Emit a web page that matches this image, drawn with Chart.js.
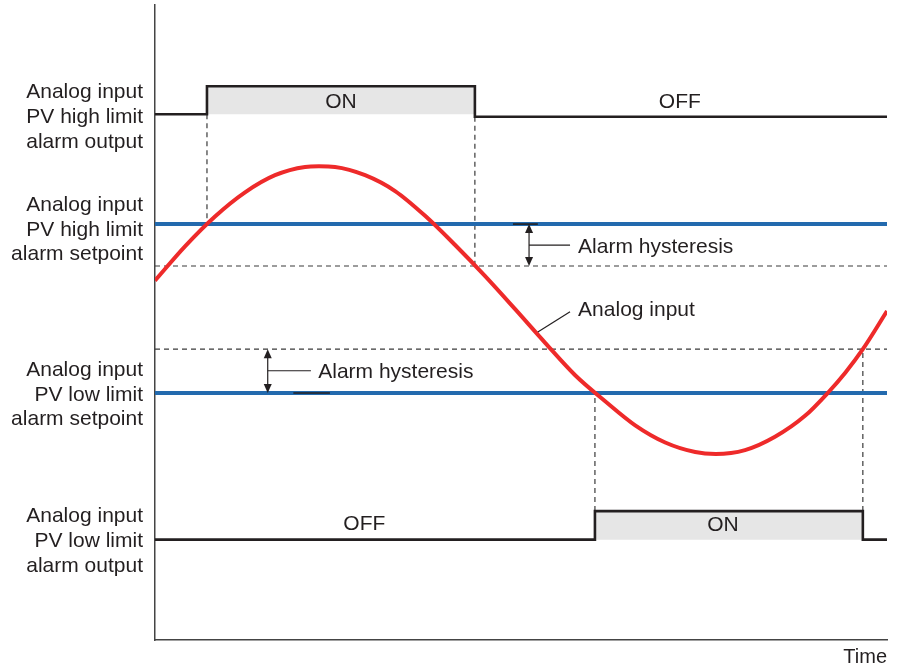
<!DOCTYPE html>
<html><head><meta charset="utf-8">
<script src="https://cdn.jsdelivr.net/npm/chart.js@4.4.1/dist/chart.umd.min.js"></script>
<style>html,body{margin:0;padding:0;background:#fff}#wrap{width:902px;height:667px}</style>
</head><body><div id="wrap"><canvas id="c" width="902" height="667"></canvas></div>
<script>
// ---- data (time 0..100, level 0..100) ----
const highOutTimes  = [0, 7.1, 7.1, 43.7, 43.7, 100];
const highOutLevels = [82.8, 82.8, 87.2, 87.2, 82.4, 82.4];
const lowOutTimes   = [0, 60.1, 60.1, 96.7, 96.7, 100];
const lowOutLevels  = [15.8, 15.8, 20.3, 20.3, 15.8, 15.8];
const highOnTimes   = [7.1, 43.7];
const lowOnTimes    = [60.1, 96.7];
const highSetpoint = 65.5, highReset = 58.9, lowReset = 45.8, lowSetpoint = 38.9;
const inputTimes  = [0, 4.1, 8.2, 12.3, 16.4, 20.5, 22.4, 24.6, 28.7, 32.8, 36.9, 41.0, 45.1, 49.2, 53.3, 57.4, 61.5, 65.6, 69.7, 73.8, 76.6, 80.6, 84.7, 88.8, 91.9, 94.3, 96.7, 100];
const inputValues = [56.6, 62.0, 66.7, 70.5, 73.2, 74.5, 74.6, 74.5, 73.2, 70.7, 66.8, 62.2, 57.3, 52.1, 46.8, 41.7, 37.6, 33.8, 31.1, 29.6, 29.3, 29.9, 32.0, 35.3, 38.9, 42.1, 45.8, 51.8];
const yTickValues = [82.3, 64.6, 38.6, 15.6];
const yTickLabels = [
  ["Analog input", "PV high limit", "alarm output"],
  ["Analog input", "PV high limit", "alarm setpoint"],
  ["Analog input", "PV low limit", "alarm setpoint"],
  ["Analog input", "PV low limit", "alarm output"]
];
const stateTexts  = ["ON", "OFF", "OFF", "ON"];
const stateTimes  = [25.4, 71.7, 28.6, 77.6];
const stateLevels = [84.7, 84.7, 18.3, 18.0];
const noteTexts  = ["Alarm hysteresis", "Analog input", "Alarm hysteresis"];
const noteTimes  = [57.8, 57.8, 22.3];
const noteLevels = [61.9, 52.0, 42.2];

const pts = (xs, ys) => xs.map((x, i) => ({x: x, y: ys[i]}));
const hline = (v) => [{x: 0, y: v}, {x: 100, y: v}];
const vline = (t, a, b) => [{x: t, y: a}, {x: t, y: b}];

const INK = '#231f20';
const FONT = '"Liberation Sans", Arial, Helvetica, sans-serif';
const dashed = {borderColor: '#3a3a3a', borderWidth: 1.2, borderDash: [5, 4], pointRadius: 0, tension: 0, fill: false, order: 3};

const datasets = [
  {data: pts(inputTimes, inputValues), borderColor: '#ee2a2a', borderWidth: 4, pointRadius: 0, cubicInterpolationMode: 'monotone', fill: false, order: 0},
  {data: hline(highSetpoint), borderColor: '#236aae', borderWidth: 4, pointRadius: 0, fill: false, order: 1},
  {data: hline(lowSetpoint), borderColor: '#236aae', borderWidth: 4, pointRadius: 0, fill: false, order: 1},
  Object.assign({data: hline(highReset)}, dashed),
  Object.assign({data: hline(lowReset)}, dashed),
  Object.assign({data: vline(highOnTimes[0], highOutLevels[0], highSetpoint)}, dashed),
  Object.assign({data: vline(highOnTimes[1], highOutLevels[5], highReset)}, dashed),
  Object.assign({data: vline(lowOnTimes[0], lowOutLevels[2], lowSetpoint)}, dashed),
  Object.assign({data: vline(lowOnTimes[1], lowOutLevels[2], lowReset)}, dashed),
  {data: pts(highOutTimes, highOutLevels), borderColor: INK, borderWidth: 2.6, pointRadius: 0, tension: 0, fill: false, order: 2, borderJoinStyle: 'miter'},
  {data: pts(lowOutTimes, lowOutLevels), borderColor: INK, borderWidth: 2.6, pointRadius: 0, tension: 0, fill: false, order: 2, borderJoinStyle: 'miter'},
  {data: pts(highOnTimes, [highOutLevels[2], highOutLevels[3]]), borderWidth: 0, pointRadius: 0, fill: {value: highOutLevels[0]}, backgroundColor: '#e6e6e6', order: 5},
  {data: pts(lowOnTimes, [lowOutLevels[2], lowOutLevels[3]]), borderWidth: 0, pointRadius: 0, fill: {value: lowOutLevels[0]}, backgroundColor: '#e6e6e6', order: 5}
];

const notesPlugin = {
  id: 'notes',
  afterDatasetsDraw(chart) {
    const {ctx, scales: {x, y}} = chart;
    const X = v => x.getPixelForValue(v), Y = v => y.getPixelForValue(v);
    ctx.save();
    const seg = (t1, v1, t2, v2, w) => {
      ctx.lineWidth = w; ctx.beginPath(); ctx.moveTo(X(t1), Y(v1)); ctx.lineTo(X(t2), Y(v2)); ctx.stroke();
    };
    const head = (px, py, dir) => {
      ctx.beginPath(); ctx.moveTo(px, py); ctx.lineTo(px - 4, py + dir * 9); ctx.lineTo(px + 4, py + dir * 9); ctx.closePath(); ctx.fill();
    };
    const arrow = (t, vTop, vBot) => {
      const px = X(t), a = Y(vTop), b = Y(vBot);
      ctx.lineWidth = 1.2; ctx.beginPath(); ctx.moveTo(px, a + 6); ctx.lineTo(px, b - 6); ctx.stroke();
      head(px, a, 1); head(px, b, -1);
    };
    ctx.strokeStyle = INK; ctx.fillStyle = INK;
    seg(48.9, highSetpoint, 52.3, highSetpoint, 1.6);
    seg(18.9, lowSetpoint, 23.9, lowSetpoint, 1.6);
    arrow(51.1, highSetpoint, highReset);
    arrow(15.4, lowReset, lowSetpoint);
    seg(51.1, 62.2, 56.7, 62.2, 1.2);
    seg(15.4, 42.4, 21.3, 42.4, 1.2);
    seg(52.3, 48.5, 56.7, 51.7, 1.2);
    ctx.font = '21px ' + FONT; ctx.textBaseline = 'middle';
    ctx.textAlign = 'center';
    stateTexts.forEach((s, i) => ctx.fillText(s, X(stateTimes[i]), Y(stateLevels[i])));
    ctx.textAlign = 'left';
    noteTexts.forEach((s, i) => ctx.fillText(s, X(noteTimes[i]), Y(noteLevels[i])));
    ctx.restore();
  }
};

new Chart(document.getElementById('c'), {
  type: 'line',
  data: {datasets: datasets},
  options: {
    responsive: false, animation: false, maintainAspectRatio: false,
    layout: {padding: {top: 5, right: 15, left: 0, bottom: 0}},
    plugins: {legend: {display: false}, tooltip: {enabled: false}},
    elements: {line: {borderCapStyle: 'butt'}},
    scales: {
      x: {
        type: 'linear', min: 0, max: 100,
        grid: {display: false, drawTicks: false},
        border: {display: true, color: '#444', width: 1.5},
        ticks: {display: false},
        title: {display: true, text: 'Time', align: 'end', color: INK, font: {family: FONT, size: 20, lineHeight: 1.0}, padding: {top: 0, bottom: 0}},
        afterFit: s => { s.height = 27; s.paddingLeft = 0; s.paddingRight = 0; }
      },
      y: {
        type: 'linear', min: 0, max: 100,
        grid: {display: false, drawTicks: false},
        border: {display: true, color: '#444', width: 1.5},
        afterBuildTicks: s => { s.ticks = yTickValues.map(v => ({value: v})); },
        ticks: {
          padding: 12, color: INK, autoSkip: false,
          font: {family: FONT, size: 21, lineHeight: 1.18},
          callback: (v, i) => yTickLabels[i]
        },
        afterFit: s => { s.width = 155; s.paddingTop = 0; s.paddingBottom = 0; }
      }
    }
  },
  plugins: [notesPlugin]
});
</script>
</body></html>
